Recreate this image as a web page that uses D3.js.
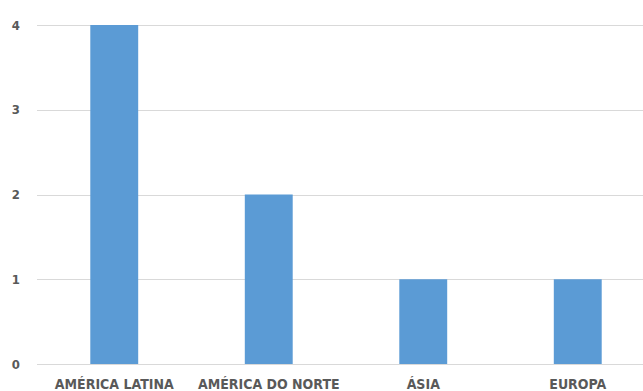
<!DOCTYPE html>
<html><head><meta charset="utf-8">
<script src="https://cdn.jsdelivr.net/npm/d3@7"></script>
<style>
html,body{margin:0;padding:0;background:#fff;}
svg{display:block;}
text{font-family:"Liberation Sans Narrow","DejaVu Sans Condensed",Arial,sans-serif;font-weight:bold;fill:#595959;}
</style></head>
<body><svg id="c" width="643" height="391"></svg>
<script>
const categories = ["AMÉRICA LATINA","AMÉRICA DO NORTE","ÁSIA","EUROPA"];
const values = [4, 2, 1, 1];
const yTicks = [0, 1, 2, 3, 4];

const svg = d3.select("#c");
const x = d3.scaleBand().domain(categories).range([37, 655]).paddingInner(0.69).paddingOuter(0.345);
const y = d3.scaleLinear().domain([0, 4]).range([364, 25]);

const grid = svg.append("g");
grid.selectAll("line").data(yTicks).join("line")
  .attr("x1", 37).attr("x2", 643)
  .attr("y1", d => Math.round(y(d)) + 0.5).attr("y2", d => Math.round(y(d)) + 0.5)
  .attr("stroke", "#d9d9d9").attr("stroke-width", 1);

svg.append("g").selectAll("text").data(yTicks).join("text")
  .attr("x", 20).attr("y", d => y(d)).attr("dy", "0.35em")
  .attr("text-anchor", "end").attr("font-size", 13)
  .text(d => d);

svg.append("g").selectAll("rect").data(values).join("rect")
  .attr("x", (d, i) => x(categories[i]))
  .attr("width", x.bandwidth())
  .attr("y", d => y(d))
  .attr("height", d => y(0) - y(d))
  .attr("fill", "#5b9bd5");

svg.append("g").selectAll("text").data(categories).join("text")
  .attr("x", d => x(d) + x.bandwidth() / 2).attr("y", 389)
  .attr("text-anchor", "middle").attr("font-size", 14)
  .text(d => d);
</script></body></html>
